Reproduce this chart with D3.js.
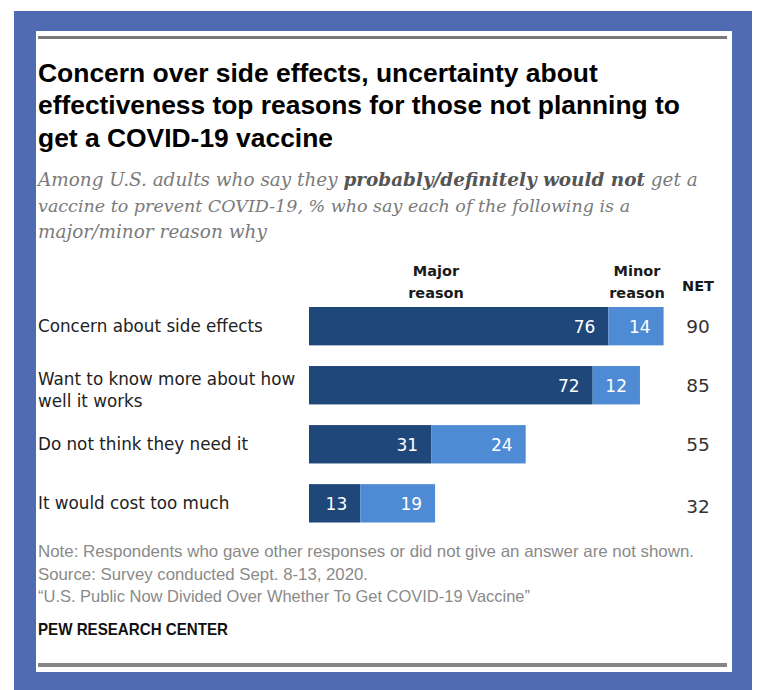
<!DOCTYPE html>
<html>
<head>
<meta charset="utf-8">
<script src="https://cdn.jsdelivr.net/npm/d3@7"></script>
<style>
  html, body { margin: 0; padding: 0; background: #ffffff; }
  svg { display: block; }
</style>
</head>
<body>
<script>
// ---- Data ----
const categories = [
  "Concern about side effects",
  "Want to know more about how well it works",
  "Do not think they need it",
  "It would cost too much"
];
const majorValues = [76, 72, 31, 13];
const minorValues = [14, 12, 24, 19];
const netValues = [90, 85, 55, 32];
const seriesNames = ["Major reason", "Minor reason"];

const titleLines = [
  "Concern over side effects, uncertainty about",
  "effectiveness top reasons for those not planning to",
  "get a COVID-19 vaccine"
];
const noteLines = [
  "Note: Respondents who gave other responses or did not give an answer are not shown.",
  "Source: Survey conducted Sept. 8-13, 2020.",
  "\u201CU.S. Public Now Divided Over Whether To Get COVID-19 Vaccine\u201D"
];
const sourceOrg = "PEW RESEARCH CENTER";

// ---- Setup ----
const W = 757, H = 690;
const svg = d3.select("body").append("svg").attr("width", W).attr("height", H);

const frameBlue = "#4f6cb3";
const darkBlue = "#1f477a";
const lightBlue = "#4f8bd4";

// Frame
svg.append("rect").attr("x", 14).attr("y", 11).attr("width", 738).attr("height", 679).attr("fill", frameBlue);
svg.append("rect").attr("x", 36).attr("y", 31).attr("width", 696).attr("height", 641).attr("fill", "#ffffff");
// Rules
svg.append("rect").attr("x", 38).attr("y", 36).attr("width", 689).attr("height", 3).attr("fill", "#7a7a7a");
svg.append("rect").attr("x", 38).attr("y", 663).attr("width", 689).attr("height", 4).attr("fill", "#858585");

// helper: fit text to target width by adjusting font-size
function fitText(sel, target) {
  const node = sel.node();
  const fs = parseFloat(sel.attr("font-size"));
  const len = node.getComputedTextLength();
  if (len > 0) sel.attr("font-size", (fs * target / len).toFixed(2));
  return sel;
}

// Title
const titleBaselines = [82, 114, 147];
const titleWidths = [560, 642, 295];
titleLines.forEach((t, i) => {
  const s = svg.append("text")
    .attr("x", 38).attr("y", titleBaselines[i])
    .attr("font-family", "'Liberation Sans', Arial, sans-serif")
    .attr("font-weight", "bold")
    .attr("font-size", 24)
    .attr("fill", "#000")
    .text(t);
  fitText(s, titleWidths[i]);
});

// Subtitle
const subFont = "'DejaVu Serif', Georgia, serif";
const sub1 = svg.append("text").attr("x", 38).attr("y", 185.5)
  .attr("font-family", subFont).attr("font-style", "italic").attr("font-size", 17).attr("fill", "#7a7a7a");
sub1.append("tspan").text("Among U.S. adults who say they ");
sub1.append("tspan").attr("font-weight", "bold").attr("fill", "#555").text("probably/definitely would not");
sub1.append("tspan").text(" get a");
fitText(sub1, 660);
const sub2 = svg.append("text").attr("x", 38).attr("y", 212)
  .attr("font-family", subFont).attr("font-style", "italic").attr("font-size", 17).attr("fill", "#7a7a7a")
  .text("vaccine to prevent COVID-19, % who say each of the following is a");
fitText(sub2, 592);
const sub3 = svg.append("text").attr("x", 38).attr("y", 238)
  .attr("font-family", subFont).attr("font-style", "italic").attr("font-size", 17).attr("fill", "#7a7a7a")
  .text("major/minor reason why");
fitText(sub3, 229);

// ---- Scales ----
const x = d3.scaleLinear().domain([0, 100]).range([309, 703]);
const y = d3.scaleBand().domain(categories).range([307, 522.5]).paddingInner(0.35).paddingOuter(0);

const bodyFont = "'DejaVu Sans', 'Liberation Sans', Arial, sans-serif";

// Headers
function header(lines, cx, by, size) {
  const t = svg.append("text").attr("font-family", "'DejaVu Sans', sans-serif").attr("font-weight", "bold")
    .attr("font-size", size).attr("fill", "#1a1a1a").attr("text-anchor", "middle");
  lines.forEach((l, i) => t.append("tspan").attr("x", cx).attr("y", by + i * 22).text(l));
}
const splitName = s => s.split(" ");
header(splitName(seriesNames[0]), 436, 276, 14.5);
header(splitName(seriesNames[1]), 637, 276, 14.5);
header(["NET"], 698, 291, 14.5);

// Category labels (wrap)
function wrapWords(text, maxChars) {
  const words = text.split(" ");
  const lines = [];
  let cur = "";
  words.forEach(w => {
    if ((cur + " " + w).trim().length > maxChars) { lines.push(cur); cur = w; }
    else cur = (cur + " " + w).trim();
  });
  if (cur) lines.push(cur);
  return lines;
}
// measure label font size from first label width
const probe = svg.append("text").attr("font-family", bodyFont).attr("font-size", 16).text(categories[0]);
fitText(probe, 225);
const labelSize = parseFloat(probe.attr("font-size"));
probe.remove();

categories.forEach(c => {
  const lines = wrapWords(c, 28);
  const cy = y(c) + y.bandwidth() / 2;
  const t = svg.append("text").attr("font-family", bodyFont).attr("font-size", labelSize).attr("fill", "#222");
  const startBase = lines.length === 1 ? cy + 6 : cy;
  lines.forEach((l, i) => t.append("tspan").attr("x", 38).attr("y", startBase + i * 21.5).text(l));
});

// Bars
const rows = categories.map((c, i) => ({ cat: c, major: majorValues[i], minor: minorValues[i], net: netValues[i] }));
const g = svg.append("g");
g.selectAll("rect.major").data(rows).join("rect").attr("class", "major")
  .attr("x", x(0)).attr("y", d => y(d.cat))
  .attr("width", d => x(d.major) - x(0)).attr("height", y.bandwidth())
  .attr("fill", darkBlue);
g.selectAll("rect.minor").data(rows).join("rect").attr("class", "minor")
  .attr("x", d => x(d.major)).attr("y", d => y(d.cat))
  .attr("width", d => x(d.major + d.minor) - x(d.major)).attr("height", y.bandwidth())
  .attr("fill", lightBlue);

// Value labels
const valSize = 17;
g.selectAll("text.vmaj").data(rows).join("text").attr("class", "vmaj")
  .attr("x", d => x(d.major) - 13).attr("y", d => y(d.cat) + y.bandwidth() / 2 + 6.5)
  .attr("text-anchor", "end").attr("font-family", bodyFont).attr("font-size", valSize).attr("fill", "#fff")
  .text(d => d.major);
g.selectAll("text.vmin").data(rows).join("text").attr("class", "vmin")
  .attr("x", d => x(d.major + d.minor) - 13).attr("y", d => y(d.cat) + y.bandwidth() / 2 + 6.5)
  .attr("text-anchor", "end").attr("font-family", bodyFont).attr("font-size", valSize).attr("fill", "#fff")
  .text(d => d.minor);
g.selectAll("text.net").data(rows).join("text").attr("class", "net")
  .attr("x", 698).attr("y", (d, i) => y(d.cat) + y.bandwidth() / 2 + 7 + (i === 3 ? 3 : 0))
  .attr("text-anchor", "middle").attr("font-family", bodyFont).attr("font-size", 18.5).attr("fill", "#333")
  .text(d => d.net);

// Notes
const noteFont = "'Liberation Sans Narrow', 'Liberation Sans', Arial, sans-serif";
const noteBase = [557, 580, 602];
const noteWidths = [656, 330, 492];
noteLines.forEach((t, i) => {
  svg.append("text").attr("x", 38).attr("y", noteBase[i])
    .attr("font-family", noteFont).attr("font-size", 16.5).attr("fill", "#8a8a8a")
    .attr("textLength", noteWidths[i]).attr("lengthAdjust", "spacingAndGlyphs")
    .text(t);
});
svg.append("text").attr("x", 38).attr("y", 635)
  .attr("font-family", noteFont).attr("font-size", 16.5).attr("font-weight", "bold").attr("fill", "#111")
  .attr("textLength", 190).attr("lengthAdjust", "spacingAndGlyphs")
  .text(sourceOrg);
</script>
</body>
</html>
